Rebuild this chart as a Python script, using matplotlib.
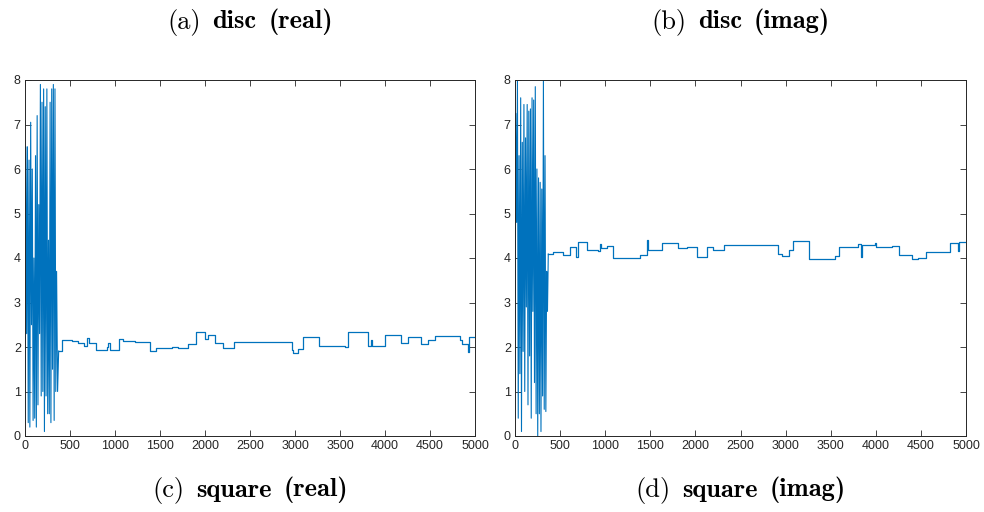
import matplotlib
matplotlib.use("Agg")
import matplotlib.pyplot as plt

# ---------------- data ----------------
# (a)/(c) real part: oscillating start, then step-wise values
real_osc_x = [0, 9, 18, 27, 36, 45, 54, 63, 72, 81, 90, 99, 108, 117, 126, 135, 144, 153, 162, 171,
              180, 189, 198, 207, 216, 225, 234, 243, 252, 261, 270, 279, 288, 297, 306, 315, 324,
              333, 342, 351, 362]
real_osc_y = [1.2, 6.5, 2.3, 6.5, 0.3, 6.2, 0.2, 7.05, 2.5, 6.0, 0.35, 4.0, 0.4, 6.3, 0.2, 7.2, 0.7,
              5.2, 2.3, 7.9, 0.9, 7.5, 1.0, 7.8, 0.1, 7.4, 0.9, 7.8, 0.5, 4.4, 0.5, 7.5, 0.3, 7.8,
              1.5, 7.9, 0.35, 7.8, 1.0, 3.7, 1.0]
real_step_x = [374, 415, 526, 593, 659, 689, 711, 785, 907, 926, 944, 1044, 1093, 1222, 1389, 1452,
               1630, 1696, 1807, 1896, 2000, 2030, 2111, 2204, 2326, 2963, 2981, 3037, 3093, 3267,
               3556, 3593, 3815, 3840, 3852, 4000, 4178, 4259, 4400, 4474, 4556, 4833, 4859, 4919,
               4933, 5000]
real_step_y = [1.91, 2.16, 2.13, 2.10, 2.03, 2.21, 2.08, 1.93, 2.01, 2.08, 1.93, 2.18, 2.13, 2.12,
               1.91, 1.97, 2.01, 1.97, 2.06, 2.33, 2.19, 2.27, 2.10, 1.98, 2.12, 1.93, 1.86, 1.95,
               2.23, 2.03, 2.01, 2.33, 2.03, 2.16, 2.03, 2.28, 2.08, 2.23, 2.07, 2.16, 2.25, 2.16,
               2.07, 1.88, 2.23, 2.23]

# (b)/(d) imaginary part
imag_osc_x = [0, 9, 18, 27, 36, 45, 54, 63, 72, 81, 90, 99, 108, 117, 126, 135, 144, 153, 162, 171,
              180, 189, 198, 207, 216, 225, 234, 243, 252, 261, 270, 279, 288, 297, 306, 315, 324,
              333, 342, 351, 360]
imag_osc_y = [1.0, 7.25, 4.8, 8.0, 0.4, 6.3, 1.4, 7.6, 0.1, 6.6, 1.9, 7.45, 1.0, 6.7, 2.9, 7.45,
              0.7, 7.3, 1.8, 7.35, 0.4, 7.6, 2.8, 7.55, 1.2, 7.85, 0.5, 6.0, 0.0, 5.8, 0.5, 5.7,
              0.1, 5.55, 0.9, 8.0, 0.6, 6.3, 0.55, 3.7, 2.8]
imag_step_x = [369, 425, 536, 610, 673, 695, 795, 924, 943, 955, 1016, 1090, 1386, 1460, 1478,
               1634, 1692, 1803, 1903, 2014, 2125, 2199, 2321, 2912, 2957, 3042, 3086, 3263, 3548,
               3592, 3807, 3833, 3845, 3990, 4002, 4176, 4258, 4397, 4471, 4553, 4823, 4908, 4923,
               5000]
imag_step_y = [4.09, 4.14, 4.07, 4.25, 4.03, 4.37, 4.18, 4.16, 4.31, 4.22, 4.27, 3.99, 4.07, 4.40,
               4.18, 4.34, 4.33, 4.22, 4.25, 4.03, 4.25, 4.19, 4.29, 4.09, 4.04, 4.18, 4.39, 3.98,
               4.04, 4.25, 4.31, 4.02, 4.29, 4.33, 4.25, 4.27, 4.07, 3.98, 3.99, 4.14, 4.33, 4.16,
               4.35, 4.35]

top_prefix = ['(a)', '(b)']
top_names = ['disc (real)', 'disc (imag)']
bottom_prefix = ['(c)', '(d)']
bottom_names = ['square (real)', 'square (imag)']
xticks = [0, 500, 1000, 1500, 2000, 2500, 3000, 3500, 4000, 4500, 5000]
yticks = [0, 1, 2, 3, 4, 5, 6, 7, 8]

# ---------------- plot ----------------
W, H = 984, 512
fig = plt.figure(figsize=(W / 100, H / 100), dpi=100)
renderer = fig.canvas.get_renderer()

axes_px = [(25, 475), (515, 966)]
top_px, bot_px = 80, 436
series = [(real_osc_x, real_osc_y, real_step_x, real_step_y),
          (imag_osc_x, imag_osc_y, imag_step_x, imag_step_y)]

axcol = '#262626'
LINE = '#0072BD'
TSIZE = 19
GAP = 12  # px between words


def caption(cx_px, cy_px, prefix, name):
    words = [(prefix, 'cmr10')] + [(w, 'cmb10') for w in name.split(' ')]
    texts, widths = [], []
    for w, fam in words:
        t = fig.text(0, 0, w, fontfamily=fam, fontsize=TSIZE, va='center')
        texts.append(t)
        widths.append(t.get_window_extent(renderer).width)
    total = sum(widths) + GAP * (len(words) - 1)
    x = cx_px - total / 2
    y = 1 - cy_px / H
    for t, w in zip(texts, widths):
        t.set_position((x / W, y))
        x += w + GAP


for i, ((l, r), (ox, oy, sx, sy)) in enumerate(zip(axes_px, series)):
    ax = fig.add_axes([l / W, 1 - bot_px / H, (r - l) / W, (bot_px - top_px) / H])
    ax.plot(ox + sx[:1], oy + sy[:1], color=LINE, lw=0.8)
    ax.plot(sx, sy, color=LINE, lw=0.9, drawstyle='steps-post')
    ax.set_xlim(0, 5000)
    ax.set_ylim(0, 8)
    ax.set_xticks(xticks)
    ax.set_yticks(yticks)
    ax.tick_params(direction='in', top=True, right=True, length=4, width=0.6,
                   colors=axcol, labelsize=9, pad=3)
    for lab in ax.get_xticklabels() + ax.get_yticklabels():
        lab.set_fontfamily('Liberation Sans')
    for s in ax.spines.values():
        s.set_color(axcol)
        s.set_linewidth(0.7)
    cx = (l + r) / 2
    caption(cx, 22, top_prefix[i], top_names[i])
    caption(cx, 490, bottom_prefix[i], bottom_names[i])

fig.savefig('out.png', dpi=100)
